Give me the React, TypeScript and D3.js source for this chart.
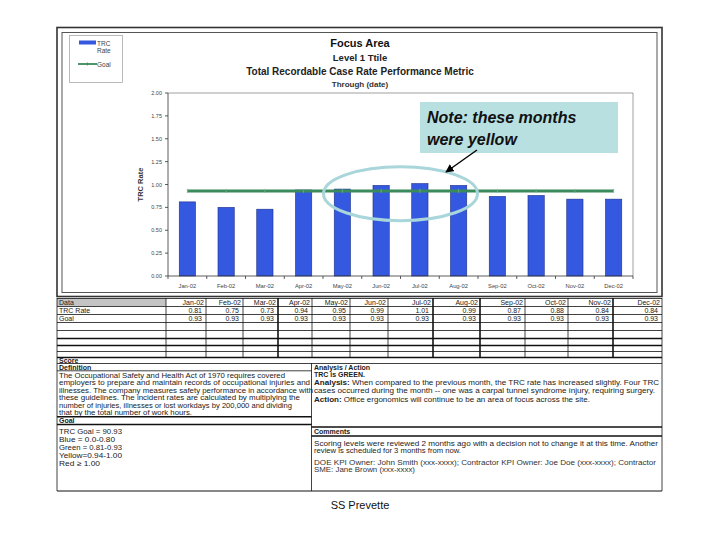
import React from "react";
import * as d3 from "d3";

const months = ["Jan-02", "Feb-02", "Mar-02", "Apr-02", "May-02", "Jun-02", "Jul-02", "Aug-02", "Sep-02", "Oct-02", "Nov-02", "Dec-02"];
const trcRate = [0.81, 0.75, 0.73, 0.94, 0.95, 0.99, 1.01, 0.99, 0.87, 0.88, 0.84, 0.84];
const goalRate = [0.93, 0.93, 0.93, 0.93, 0.93, 0.93, 0.93, 0.93, 0.93, 0.93, 0.93, 0.93];
const yTicks = [0, 0.25, 0.5, 0.75, 1.0, 1.25, 1.5, 1.75, 2.0];

const titles = ["Focus Area", "Level 1 Ttile", "Total Recordable Case Rate Performance Metric", "Through (date)"];

const definitionLines = [
  "The Occupational Safety and Health Act of 1970 requires covered",
  "employers to prepare and maintain records of occupational injuries and",
  "illnesses. The company measures safety performance in accordance with",
  "these guidelines. The incident rates are calculated by multiplying the",
  "number of injuries, illnesses or lost workdays by 200,000 and dividing",
  "that by the total number of work hours.",
];
const goalLines = ["TRC Goal = 90.93", "Blue = 0.0-0.80", "Green = 0.81-0.93", "Yellow=0.94-1.00", "Red \u2265 1.00"];
const commentLines = [
  "Scoring levels were reviewed 2 months ago with a decision not to change it at this time. Another",
  "review is scheduled for 3 months from now.",
];
const ownerLines = [
  "DOE KPI Owner: John Smith (xxx-xxxx); Contractor KPI Owner: Joe Doe (xxx-xxxx); Contractor",
  "SME: Jane Brown (xxx-xxxx)",
];

// layout
const W = 720, H = 540;
const plot = { left: 168, right: 633, top: 93, bottom: 276 };
const colEdges = [57, 166, 206, 243, 278, 312, 350, 388, 433, 480, 525, 568, 613, 662];
const thickCols = [278, 433, 480, 613];
const rowLines = [298, 306, 314, 322, 330, 338, 345, 351, 357];
const defWidths = [226, 251, 254, 241, 233, 133];
const goalWidths = [63, 56, 63, 63, 41];
const font = "'Liberation Sans', Arial, sans-serif";
const ink = "#222";

export default function App() {
  const x = d3.scaleBand<string>().domain(months).range([plot.left, plot.right]).paddingInner(0.58).paddingOuter(0.29);
  const xEdge = d3.scaleBand<string>().domain(months).range([plot.left, plot.right]);
  const y = d3.scaleLinear().domain([0, 2]).range([plot.bottom, plot.top]);
  const cx = (m: string) => (x(m) as number) + x.bandwidth() / 2;

  const goalPath = d3
    .line<number>()
    .x((_, i) => cx(months[i]))
    .y((d) => y(d))(goalRate) as string;

  const rowsTop = rowLines[0];
  const rowsBottom = rowLines[rowLines.length - 1];
  const fit = { lengthAdjust: "spacingAndGlyphs" as const };

  return (
    <svg width={W} height={H} style={{ position: "absolute", left: 0, top: 0, background: "#fff" }} fontFamily={font}>
      <defs>
        <marker id="ah" viewBox="0 0 10 10" refX="9" refY="5" markerWidth="6" markerHeight="6" orient="auto-start-reverse">
          <path d="M0,0 L10,5 L0,10 z" fill="#000" />
        </marker>
      </defs>

      {/* chart frame */}
      <rect x={57} y={27.5} width={605} height={269} fill="none" stroke="#333" strokeWidth={1.6} />
      <rect x={62} y={32.5} width={595} height={260} fill="none" stroke="#555" strokeWidth={1} />

      {/* legend */}
      <rect x={69.5} y={35.5} width={53} height={47} fill="#fff" stroke="#aaa" strokeWidth={0.8} />
      <rect x={79} y={40.5} width={17} height={4} fill="#3558e0" />
      <text x={97} y={45.5} fontSize={6.5} fill="#444">TRC</text>
      <text x={97} y={53} fontSize={6.5} fill="#444">Rate</text>
      <line x1={78} x2={97} y1={64} y2={64} stroke="#3a8a5c" strokeWidth={1.8} />
      <line x1={87.5} x2={87.5} y1={62.5} y2={65.5} stroke="#3a8a5c" strokeWidth={0.8} />
      <text x={97} y={66.5} fontSize={6.5} fill="#444">Goal</text>

      {/* titles */}
      <text x={360} y={47} textAnchor="middle" fontSize={11} fontWeight="bold" fill="#111">{titles[0]}</text>
      <text x={360} y={61} textAnchor="middle" fontSize={9.5} fontWeight="bold" fill="#222">{titles[1]}</text>
      <text x={360} y={75} textAnchor="middle" fontSize={10} fontWeight="bold" fill="#222">{titles[2]}</text>
      <text x={360} y={87} textAnchor="middle" fontSize={8} fontWeight="bold" fill="#333">{titles[3]}</text>

      {/* plot border */}
      <path d={`M${plot.left},${plot.top}H${plot.right}V${plot.bottom}`} fill="none" stroke="#888" strokeWidth={0.8} />

      {/* y axis */}
      <line x1={plot.left} x2={plot.left} y1={plot.top} y2={plot.bottom} stroke="#333" strokeWidth={0.8} />
      {yTicks.map((t) => (
        <g key={t}>
          <line x1={plot.left - 3} x2={plot.left} y1={y(t)} y2={y(t)} stroke="#333" strokeWidth={0.8} />
          <text x={plot.left - 6} y={y(t) + 2} textAnchor="end" fontSize={5.5} fill="#444">{d3.format(".2f")(t)}</text>
        </g>
      ))}
      <text transform={`translate(143,${(plot.top + plot.bottom) / 2}) rotate(-90)`} textAnchor="middle" fontSize={7.5} fontWeight="bold" fill="#333">TRC Rate</text>

      {/* bars */}
      {months.map((m, i) => (
        <rect key={m} x={x(m)} y={y(trcRate[i])} width={x.bandwidth()} height={plot.bottom - y(trcRate[i])} fill="#3558e0" stroke="#1c2f86" strokeWidth={0.6} />
      ))}

      {/* x axis */}
      <line x1={plot.left} x2={plot.right} y1={plot.bottom} y2={plot.bottom} stroke="#333" strokeWidth={0.8} />
      {months.map((m) => (
        <line key={m} x1={xEdge(m)} x2={xEdge(m)} y1={plot.bottom} y2={plot.bottom + 3} stroke="#333" strokeWidth={0.8} />
      ))}
      <line x1={plot.right} x2={plot.right} y1={plot.bottom} y2={plot.bottom + 3} stroke="#333" strokeWidth={0.8} />
      {months.map((m) => (
        <text key={m} x={cx(m)} y={plot.bottom + 12} textAnchor="middle" fontSize={5.8} fill="#444">{m}</text>
      ))}

      {/* goal line */}
      <path d={goalPath} fill="none" stroke="#3a8a5c" strokeWidth={3} />
      {goalRate.map((g, i) => (
        <line key={i} x1={cx(months[i])} x2={cx(months[i])} y1={y(g) - 2} y2={y(g) + 2} stroke="#6fb08a" strokeWidth={0.8} />
      ))}

      {/* annotation */}
      <ellipse cx={xEdge("Jul-02")} cy={y(0.9)} rx={77} ry={27} fill="none" stroke="#a9d6da" strokeWidth={3} />
      <rect x={420} y={102} width={198} height={51} fill="#b8e0e1" />
      <text x={427} y={123} fontSize={16} fontWeight="bold" fontStyle="italic" fill="#111">Note: these months</text>
      <text x={427} y={145} fontSize={16} fontWeight="bold" fontStyle="italic" fill="#111">were yellow</text>
      <line x1={477} y1={150} x2={446} y2={172} stroke="#000" strokeWidth={1.4} markerEnd="url(#ah)" />

      {/* data table */}
      <rect x={57} y={rowsTop + 0.5} width={colEdges[1] - 57} height={7.5} fill="#c4c4c4" />
      {rowLines.map((r, i) => (
        <line key={r} x1={57} x2={662} y1={r + 0.5} y2={r + 0.5} stroke="#111" strokeWidth={i === 5 || i === 6 || i === rowLines.length - 1 ? 1.6 : 0.8} />
      ))}
      {colEdges.map((c) => (
        <line key={c} x1={c} x2={c} y1={rowsTop} y2={c === 57 || c === 662 ? 491 : rowsBottom} stroke="#111" strokeWidth={thickCols.includes(c) ? 1.6 : 0.8} />
      ))}
      <text x={59} y={304.5} fontSize={7} fill={ink}>Data</text>
      <text x={59} y={312.5} fontSize={7} fill={ink}>TRC Rate</text>
      <text x={59} y={320.5} fontSize={7} fill={ink}>Goal</text>
      {months.map((m, i) => (
        <g key={m}>
          <text x={colEdges[i + 2] - 2} y={304.5} textAnchor="end" fontSize={7} fill={ink}>{m}</text>
          <text x={colEdges[i + 2] - 4} y={312.5} textAnchor="end" fontSize={7} fill={ink}>{d3.format(".2f")(trcRate[i])}</text>
          <text x={colEdges[i + 2] - 4} y={320.5} textAnchor="end" fontSize={7} fill={ink}>{d3.format(".2f")(goalRate[i])}</text>
        </g>
      ))}

      {/* score */}
      <text x={59} y={362.5} fontSize={7} fontWeight="bold" fill={ink}>Score</text>
      <line x1={57} x2={662} y1={363.5} y2={363.5} stroke="#111" strokeWidth={0.8} />

      {/* lower panels */}
      <line x1={311.5} x2={311.5} y1={363} y2={491} stroke="#111" strokeWidth={0.8} />
      <line x1={57} x2={662} y1={491} y2={491} stroke="#111" strokeWidth={1} />

      <text x={59} y={369.6} fontSize={7} fontWeight="bold" fill={ink}>Definition</text>
      <line x1={57} x2={311.5} y1={370.8} y2={370.8} stroke="#111" strokeWidth={0.8} />
      {definitionLines.map((t, i) => (
        <text key={i} x={59} y={377.8 + i * 7.5} fontSize={7.1} fill={ink} textLength={defWidths[i]} {...fit}>{t}</text>
      ))}
      <line x1={57} x2={311.5} y1={416.8} y2={416.8} stroke="#111" strokeWidth={1.6} />
      <text x={59} y={423} fontSize={7} fontWeight="bold" fill={ink}>Goal</text>
      <line x1={57} x2={311.5} y1={424.5} y2={424.5} stroke="#111" strokeWidth={1.6} />
      {goalLines.map((t, i) => (
        <text key={i} x={59} y={433.5 + i * 8} fontSize={7.4} fill={ink} textLength={goalWidths[i]} {...fit}>{t}</text>
      ))}

      <text x={314} y={369.6} fontSize={7} fontWeight="bold" fill={ink}>Analysis / Action</text>
      <text x={314} y={377.4} fontSize={7} fontWeight="bold" fill={ink}>TRC is GREEN.</text>
      <text x={314} y={385.4} fontSize={6.9} fill={ink} textLength={345} {...fit}>
        <tspan fontWeight="bold">Analysis:</tspan> When compared to the previous month, the TRC rate has increased slightly. Four TRC
      </text>
      <text x={314} y={393.4} fontSize={6.9} fill={ink} textLength={341} {...fit}>
        cases occurred during the month -- one was a carpal tunnel syndrome injury, requiring surgery.
      </text>
      <text x={314} y={401.6} fontSize={6.9} fill={ink} textLength={276} {...fit}>
        <tspan fontWeight="bold">Action:</tspan> Office ergonomics will continue to be an area of focus across the site.
      </text>
      <line x1={311.5} x2={662} y1={427} y2={427} stroke="#111" strokeWidth={1.6} />
      <text x={314} y={433.5} fontSize={7} fontWeight="bold" fill={ink}>Comments</text>
      <line x1={311.5} x2={662} y1={436} y2={436} stroke="#111" strokeWidth={1.6} />
      <text x={314} y={445.5} fontSize={7.4} fill={ink} textLength={344} {...fit}>{commentLines[0]}</text>
      <text x={314} y={453} fontSize={7.4} fill={ink} textLength={147} {...fit}>{commentLines[1]}</text>
      <text x={314} y={464.5} fontSize={7} fill="#333" textLength={342} {...fit}>{ownerLines[0]}</text>
      <text x={314} y={472} fontSize={7} fill="#333" textLength={101} {...fit}>{ownerLines[1]}</text>

      <text x={360} y={509} textAnchor="middle" fontSize={11} fill="#111">SS Prevette</text>
    </svg>
  );
}
